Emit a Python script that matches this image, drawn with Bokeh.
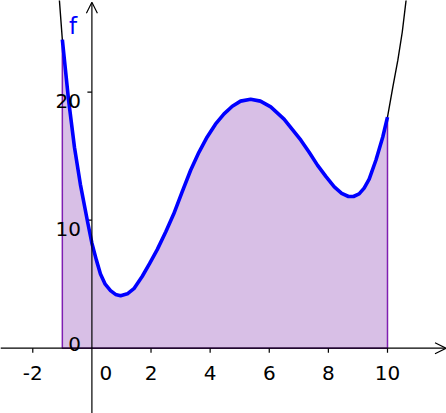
from bokeh.plotting import figure
from bokeh.models import Range1d, Arrow, OpenHead
from bokeh.core.properties import value
from bokeh.embed import file_html
from bokeh.resources import INLINE

# Values: points on the curve of f
curve_x = [-1.10, -1.00, -0.79, -0.59, -0.39, -0.14, 0.00, 0.15, 0.29, 0.45, 0.63, 0.80,
           0.97, 1.20, 1.42, 1.70, 1.95, 2.21, 2.50, 2.77, 3.05, 3.34, 3.62, 3.90, 4.18,
           4.47, 4.75, 5.03, 5.37, 5.70, 6.05, 6.50, 7.07, 7.35, 7.63, 7.92, 8.20, 8.45,
           8.68, 8.85, 9.04, 9.21, 9.38, 9.61, 9.84, 10.00, 10.18, 10.35, 10.50, 10.63]
curve_y = [27.2, 24.1, 19.4, 15.7, 12.8, 9.8, 8.2, 6.9, 5.8, 5.0, 4.5, 4.2,
           4.1, 4.25, 4.65, 5.6, 6.6, 7.7, 9.1, 10.5, 12.2, 13.9, 15.3, 16.5, 17.5,
           18.3, 18.9, 19.3, 19.45, 19.3, 18.85, 17.9, 16.25, 15.3, 14.3, 13.4, 12.6, 12.1,
           11.85, 11.85, 12.05, 12.5, 13.2, 14.7, 16.5, 18.05, 20.4, 22.5, 24.7, 27.2]

area_from = -1.0
area_to = 10.0

x_ticks = [-2, 2, 4, 6, 8, 10]
x_tick_labels = ["-2", "2", "4", "6", "8", "10"]
y_ticks = [10, 20]
y_tick_labels = ["10", "20"]

W, H = 446, 413
x0, x1 = -3.092, 11.996
y0, y1 = -5.10, 27.16
sx = W / (x1 - x0)
sy = H / (y1 - y0)

p = figure(width=W, height=H, x_range=Range1d(x0, x1), y_range=Range1d(y0, y1),
           output_backend="svg", toolbar_location=None, min_border=0)
p.axis.visible = False
p.grid.visible = False
p.outline_line_color = None
p.background_fill_color = "white"
p.border_fill_color = "white"

# shaded area
ax_in = [x for x in curve_x if area_from <= x <= area_to]
ay_in = [y for x, y in zip(curve_x, curve_y) if area_from <= x <= area_to]
p.patch(x=[area_from] + ax_in + [area_to], y=[0] + ay_in + [0],
        fill_color=(216, 191, 230), fill_alpha=1.0,
        line_color=(127, 30, 178), line_width=1.5)

# axes
axis_w = 1.2
p.add_layout(Arrow(end=OpenHead(size=11, line_width=axis_w, line_color="black"),
                   x_start=x0, y_start=0, x_end=x0 + 445.5 / sx, y_end=0,
                   line_width=axis_w, line_color="black"))
p.add_layout(Arrow(end=OpenHead(size=11, line_width=axis_w, line_color="black"),
                   x_start=0, y_start=y0, x_end=0, y_end=y1 - 1.7 / sy,
                   line_width=axis_w, line_color="black"))

# tick marks
p.segment(x0=x_ticks, y0=[0] * len(x_ticks), x1=x_ticks, y1=[-4.5 / sy] * len(x_ticks),
          line_color="black", line_width=axis_w)
p.segment(x0=[0] * len(y_ticks), y0=y_ticks, x1=[-4.5 / sx] * len(y_ticks), y1=y_ticks,
          line_color="black", line_width=axis_w)

# curves
p.line(curve_x, curve_y, line_color="black", line_width=1.4)
p.line(ax_in, ay_in, line_color="#0000FF", line_width=3.6, line_join="round")

font = value("DejaVu Sans")
fs = "20px"
p.text(x=x_ticks, y=[0] * len(x_ticks), text=x_tick_labels, text_align="center",
       text_baseline="alphabetic", y_offset=25, text_font=font, text_font_size=fs,
       text_color="black")
p.text(x=[0], y=[0], text=["0"], text_align="center", text_baseline="alphabetic",
       x_offset=14, y_offset=25, text_font=font, text_font_size=fs, text_color="black")
p.text(x=[0] * len(y_ticks), y=y_ticks, text=y_tick_labels, text_align="right",
       text_baseline="alphabetic", x_offset=-11, y_offset=8.5, text_font=font,
       text_font_size=fs, text_color="black")
p.text(x=[0], y=[0], text=["0"], text_align="right", text_baseline="alphabetic",
       x_offset=-11, y_offset=-4.5, text_font=font, text_font_size=fs, text_color="black")

# function name label
p.text(x=[-0.775], y=[25.2], text=["f"], text_align="left", text_baseline="alphabetic",
       text_font=font, text_font_size="23px", text_color="#0000FF")

open("out.html", "w").write(file_html(p, INLINE))
